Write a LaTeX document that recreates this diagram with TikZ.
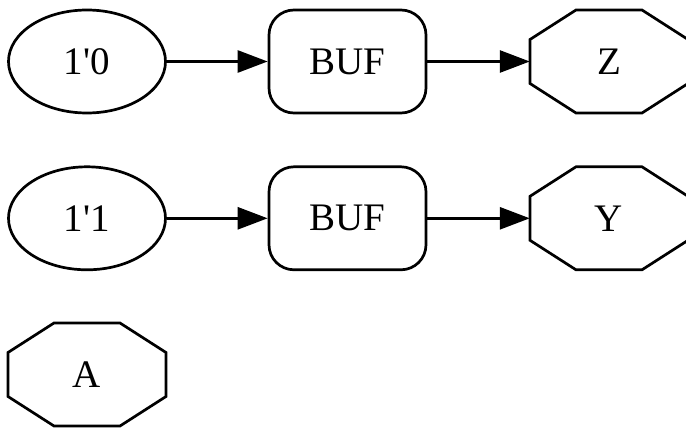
\documentclass[tikz,border=0pt]{standalone}
\usepackage{fontspec}
\setmainfont{Liberation Serif}
\newfontfamily\labelfont{Liberation Serif}
\usetikzlibrary{shapes.geometric,arrows.meta,calc}
\begin{document}
\begin{tikzpicture}[x=1pt,y=1pt,
  every node/.style={font=\labelfont\fontsize{39}{40}\selectfont, inner sep=0pt},
  lit/.style={ellipse, draw, line width=2.7pt, minimum width=157pt, minimum height=103pt},
  buf/.style={rectangle, rounded corners=25pt, draw, line width=2.7pt, minimum width=157pt, minimum height=103pt},
  port/.style={minimum width=158pt, minimum height=103pt},
  conn/.style={line width=2.7pt, -{Triangle[length=30pt,width=22pt]}},
  octline/.style={line width=2.7pt, line join=miter}]
\useasboundingbox (0,0) rectangle (686,-428);
\newcommand{\octagonat}[1]{%
  \draw[octline] ($(#1)+(-33,51.5)$) -- ($(#1)+(33,51.5)$) -- ($(#1)+(79,22)$) -- ($(#1)+(79,-22)$)
   -- ($(#1)+(33,-51.5)$) -- ($(#1)+(-33,-51.5)$) -- ($(#1)+(-79,-22)$) -- ($(#1)+(-79,22)$) -- cycle;}
\node[lit] (l0) at (87,-61.5) {1'0};
\node[buf] (b0) at (347.5,-61.5) {BUF};
\node[port] (z) at (609,-61.5) {Z};
\node[lit] (l1) at (87,-218.3) {1'1};
\node[buf] (b1) at (347.5,-218.3) {BUF};
\node[port] (y) at (609,-218.3) {Y};
\node[port] (a) at (87,-374.5) {A};
\octagonat{z}
\octagonat{y}
\octagonat{a}
\draw[conn] (l0.east) -- (b0.west);
\draw[conn] (b0.east) -- (z.west);
\draw[conn] (l1.east) -- (b1.west);
\draw[conn] (b1.east) -- (y.west);
\end{tikzpicture}
\end{document}
